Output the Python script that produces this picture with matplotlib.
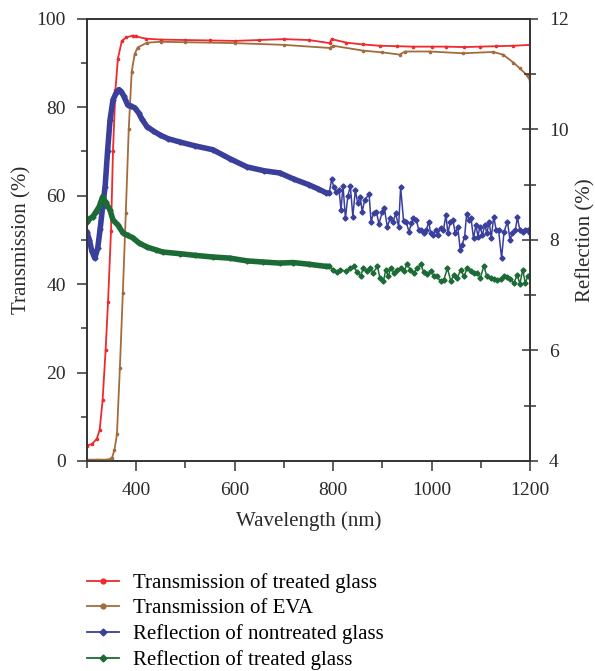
import matplotlib.pyplot as plt
from matplotlib.ticker import MultipleLocator
from matplotlib.lines import Line2D

plt.rcParams['font.family'] = ['Liberation Serif', 'DejaVu Serif']

# Transmission of treated glass (%)
wl_red = [300, 310, 320, 326, 332, 338, 343, 349, 353, 358, 363, 371, 380, 393, 400,
          420, 450, 500, 550, 600, 650, 700, 750, 793, 797, 827, 860, 895, 930, 962,
          1000, 1030, 1065, 1098, 1130, 1166, 1200]
t_red = [3.5, 3.8, 5.0, 7.0, 13.8, 25, 36, 52, 70, 84, 91, 95, 95.8, 96.2, 96.0,
         95.5, 95.3, 95.2, 95.1, 95.0, 95.2, 95.4, 95.2, 94.5, 95.4, 94.6, 94.2, 93.9, 93.8, 93.7,
         93.7, 93.7, 93.6, 93.7, 93.8, 93.9, 94.1]

# Transmission of EVA (%)
wl_eva = [300, 320, 340, 346, 351, 356, 361, 367, 373, 379, 385, 391, 397, 403, 422,
          450, 500, 600, 700, 793, 800, 861, 900, 935, 946, 996, 1064, 1125, 1145,
          1166, 1179, 1193, 1200]
t_eva = [0.3, 0.3, 0.3, 0.4, 0.7, 2.5, 6, 21, 38, 56, 75, 88, 92, 93.5, 94.6,
         94.8, 94.7, 94.5, 94.1, 93.4, 93.9, 92.8, 92.4, 91.9, 92.6, 92.6, 92.2, 92.5, 91.9,
         90.1, 88.8, 87.3, 86.0]

# Reflection of nontreated glass (%)
wl_blue = [300, 305, 310, 316, 322, 327, 332, 337, 342, 347, 353, 359, 365, 370, 375,
           383, 390, 397, 405, 412, 422, 435, 448, 465, 489, 520, 556, 590, 625, 660,
           692, 720, 750, 770, 786, 792,
           797, 801, 806, 812, 816, 820, 825, 830, 835, 840, 845, 850, 855, 859, 864,
           873, 877, 882, 888, 893, 900, 904, 910, 916, 922, 927, 933, 937, 943, 948,
           954, 959, 963, 969, 974, 979, 985, 989, 994, 998, 1003, 1008, 1012, 1018,
           1024, 1029, 1033, 1038, 1043, 1048, 1053, 1058, 1062, 1067, 1071, 1076, 1080,
           1085, 1090, 1094, 1098, 1103, 1108, 1112, 1117, 1121, 1126, 1131, 1136, 1142,
           1147, 1154, 1159, 1164, 1170, 1174, 1179, 1185, 1190, 1195, 1200]
r_blue = [8.15, 8.0, 7.8, 7.67, 7.85, 8.2, 8.6, 8.96, 9.6, 10.17, 10.53, 10.65, 10.72, 10.68, 10.6,
          10.44, 10.42, 10.39, 10.3, 10.18, 10.05, 9.97, 9.9, 9.83, 9.77, 9.7, 9.63, 9.47, 9.32, 9.25,
          9.21, 9.1, 9.0, 8.92, 8.85, 8.85,
          9.10, 8.96, 8.87, 8.9, 8.54, 8.98, 8.39, 8.8, 8.97, 8.42, 8.9, 8.66, 8.78, 8.51, 8.72,
          8.83, 8.33, 8.48, 8.5, 8.29, 8.51, 8.57, 8.24, 8.39, 8.33, 8.48, 8.24, 8.95, 8.35, 8.33,
          8.15, 8.3, 8.39, 8.36, 8.17, 8.18, 8.13, 8.17, 8.33, 8.12, 8.09, 8.18, 8.09, 8.21,
          8.18, 8.45, 8.12, 8.33, 8.36, 8.12, 8.24, 7.82, 7.91, 8.06, 8.47, 8.36, 8.39,
          8.03, 8.27, 8.06, 8.24, 8.09, 8.27, 8.12, 8.33, 8.03, 8.42, 8.18, 8.17, 7.67,
          8.15, 8.33, 8.0, 8.12, 8.18, 8.41, 8.18, 8.15, 8.17, 8.18, 8.12]

# Reflection of treated glass (%)
wl_green = [300, 305, 312, 318, 325, 332, 338, 347, 353, 363, 373, 383, 393, 405, 422,
            440, 454, 489, 520, 556, 590, 625, 657, 692, 719, 750, 786, 792,
            800, 807, 814, 827, 834, 842, 849, 856, 861, 869, 875, 881, 890, 895, 902,
            907, 912, 917, 924, 930, 937, 944, 950, 957, 964, 971, 978, 984, 991, 998,
            1005, 1011, 1018, 1025, 1032, 1039, 1045, 1052, 1059, 1066, 1072, 1079, 1086,
            1093, 1099, 1106, 1112, 1120, 1126, 1133, 1140, 1147, 1153, 1160, 1167, 1174,
            1179, 1185, 1190, 1195, 1200]
r_green = [8.33, 8.38, 8.42, 8.5, 8.6, 8.78, 8.68, 8.54, 8.36, 8.27, 8.13, 8.08, 8.04, 7.95, 7.87,
           7.82, 7.78, 7.75, 7.72, 7.69, 7.67, 7.62, 7.6, 7.58, 7.59, 7.56, 7.52, 7.52,
           7.46, 7.41, 7.46, 7.43, 7.49, 7.52, 7.41, 7.35, 7.49, 7.44, 7.5, 7.4, 7.52, 7.31, 7.25,
           7.46, 7.34, 7.49, 7.4, 7.46, 7.49, 7.43, 7.56, 7.46, 7.4, 7.49, 7.56, 7.41, 7.38, 7.43,
           7.35, 7.34, 7.25, 7.28, 7.49, 7.25, 7.37, 7.31, 7.46, 7.34, 7.49, 7.43, 7.4,
           7.4, 7.31, 7.53, 7.34, 7.31, 7.29, 7.28, 7.29, 7.34, 7.32, 7.29, 7.22, 7.37,
           7.2, 7.46, 7.22, 7.34, 7.34]

n_smooth_blue = 36   # 1 nm scan below 800 nm -> dense band
n_smooth_green = 28

c_red = '#ee2a2e'
c_eva = '#a26c3c'
c_blue = '#3a3f9c'
c_green = '#1c6b36'
spine_c = '#333333'
txt_c = '#2a2a2a'

fig = plt.figure(figsize=(5.95, 6.71), dpi=100)
ax = fig.add_axes([0.146, 0.313, 0.745, 0.659])
ax2 = ax.twinx()

ax.plot(wl_red, t_red, color=c_red, lw=1.3, marker='o', ms=1.6, zorder=3)
ax.plot(wl_eva, t_eva, color=c_eva, lw=1.3, marker='o', ms=1.6, zorder=3)

# dense measured region drawn as a thick band, sparse region as thin line + small diamonds
ax2.plot(wl_blue[:n_smooth_blue], r_blue[:n_smooth_blue], color=c_blue, lw=4,
         solid_capstyle='round', solid_joinstyle='round')
ax2.plot(wl_blue, r_blue, color=c_blue, lw=1.1, marker='D', ms=2.6)
ax2.plot(wl_green[:n_smooth_green], r_green[:n_smooth_green], color=c_green, lw=4,
         solid_capstyle='round', solid_joinstyle='round')
ax2.plot(wl_green, r_green, color=c_green, lw=1.1, marker='D', ms=2.6)

ax.set_xlim(300, 1200)
ax.set_ylim(0, 100)
ax2.set_ylim(4, 12)

ax.xaxis.set_major_locator(MultipleLocator(200))
ax.xaxis.set_minor_locator(MultipleLocator(100))
ax.yaxis.set_major_locator(MultipleLocator(20))
ax.yaxis.set_minor_locator(MultipleLocator(10))
ax2.yaxis.set_major_locator(MultipleLocator(2))
ax2.yaxis.set_minor_locator(MultipleLocator(1))

ax.tick_params(axis='both', which='both', direction='out', labelsize=14,
               colors=spine_c, labelcolor=txt_c, width=1.1)
ax.tick_params(axis='y', which='both', pad=8)
ax.tick_params(axis='x', which='both', pad=8)
ax.tick_params(which='major', length=7)
ax.tick_params(which='minor', length=4)
ax.tick_params(axis='x', which='minor', length=5)
ax.tick_params(axis='x', top=False)
ax2.tick_params(axis='y', which='both', direction='inout', labelsize=14,
                colors=spine_c, labelcolor=txt_c, width=1.1, pad=8)
ax2.tick_params(which='major', length=11)
ax2.tick_params(which='minor', length=8)

for a in (ax, ax2):
    for s in a.spines.values():
        s.set_color(spine_c)
        s.set_linewidth(1.2)

ax.set_xlabel('Wavelength (nm)', fontsize=15, color=txt_c, labelpad=9)
ax.set_ylabel('Transmission (%)', fontsize=15, color=txt_c, labelpad=4)
ax2.set_ylabel('Reflection (%)', fontsize=15, color=txt_c, labelpad=5)

handles = [
    Line2D([], [], color=c_red, lw=1.3, marker='o', ms=3.5),
    Line2D([], [], color=c_eva, lw=1.3, marker='o', ms=3.5),
    Line2D([], [], color=c_blue, lw=1.3, marker='D', ms=3.5),
    Line2D([], [], color=c_green, lw=1.3, marker='D', ms=3.5),
]
labels = ['Transmission of treated glass', 'Transmission of EVA',
          'Reflection of nontreated glass', 'Reflection of treated glass']
fig.legend(handles, labels, loc='upper left', bbox_to_anchor=(0.146, 0.146),
           frameon=False, fontsize=15, handlelength=1.55, labelspacing=0.28,
           handletextpad=0.65, borderaxespad=0, borderpad=0)

fig.savefig('out.png', dpi=100)
